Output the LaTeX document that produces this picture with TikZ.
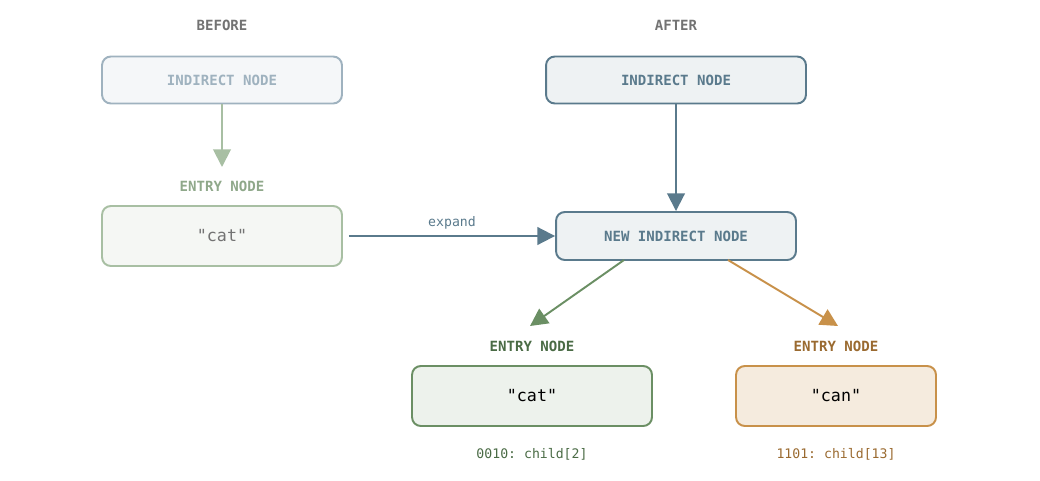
\documentclass[tikz,border=0pt]{standalone}
\usepackage{fontspec}
\setmonofont{DejaVu Sans Mono}
\usetikzlibrary{arrows.meta}
\definecolor{slate}{HTML}{5A7A8C}
\definecolor{slateLight}{HTML}{9FB2BF}
\definecolor{sage}{HTML}{A8BFA3}
\definecolor{sageText}{HTML}{8FA88A}
\definecolor{leaf}{HTML}{6B8F64}
\definecolor{leafDark}{HTML}{4A6B45}
\definecolor{amber}{HTML}{C8914A}
\definecolor{amberDark}{HTML}{9A6A30}
\newcommand{\tipSize}{Triangle[length=10pt,width=10pt]}
\tikzset{box/.style = {draw, rounded corners=5pt, line width=1.1pt, font=\ttfamily\bfseries\fontsize{8}{10}\selectfont}}
\tikzset{word/.style = {box, font=\ttfamily\fontsize{9.5}{11}\selectfont}}
\tikzset{caption/.style = {font=\ttfamily\bfseries\fontsize{8}{10}\selectfont}}
\tikzset{note/.style = {font=\ttfamily\fontsize{7.5}{9}\selectfont}}
\tikzset{link/.style = {line width=1.1pt, -{\tipSize}}}

\begin{document}
\begin{tikzpicture}[x=0.02cm,y=-0.02cm]
    \useasboundingbox (0,0) rectangle (1040,480);

    % before
    \node[caption, text=gray!110] (before) at (222,25) {BEFORE};
    \node[box, slateLight, fill=slateLight!10, minimum width=4.8cm, minimum height=0.94cm] (oldInd) at (222,80) {INDIRECT NODE};
    \node[caption, text=sageText] (oldCap) at (222,186) {ENTRY NODE};
    \node[word, sage, fill=sage!12, text=gray!110, minimum width=4.8cm, minimum height=1.2cm] (oldCat) at (222,236) {"cat"};
    \coordinate (oldTip) at (222,167);
    \draw[link, sage] (oldInd) -- (oldTip);

    % after
    \node[caption, text=gray!110] (after) at (676,25) {AFTER};
    \node[box, slate, fill=slate!10, minimum width=5.2cm, minimum height=0.94cm] (newTop) at (676,80) {INDIRECT NODE};
    \node[box, slate, fill=slate!10, minimum width=4.8cm, minimum height=0.96cm] (newInd) at (676,236) {NEW INDIRECT NODE};
    \draw[link, slate] (newTop) -- (newInd);
    \draw[link, slate] (oldCat.east) ++(6,0) -- (newInd.west)
        node[midway, above, note, text=slate] (expand) {expand};

    % children
    \node[caption, text=leafDark] (catCap) at (532,346) {ENTRY NODE};
    \node[word, leaf, fill=leaf!12, text=black, minimum width=4.8cm, minimum height=1.2cm] (cat) at (532,396) {"cat"};
    \node[note, text=leafDark] (catNote) at (532,454) {0010: child[2]};
    \node[caption, text=amberDark] (canCap) at (836,346) {ENTRY NODE};
    \node[word, amber, fill=amber!18, text=black, minimum width=4cm, minimum height=1.2cm] (can) at (836,396) {"can"};
    \node[note, text=amberDark] (canNote) at (836,454) {1101: child[13]};

    \coordinate (catTip) at (530,326);
    \coordinate (canTip) at (838,326);
    \draw[link, leaf] (624,260) -- (catTip);
    \draw[link, amber] (728,260) -- (canTip);
\end{tikzpicture}
\end{document}
